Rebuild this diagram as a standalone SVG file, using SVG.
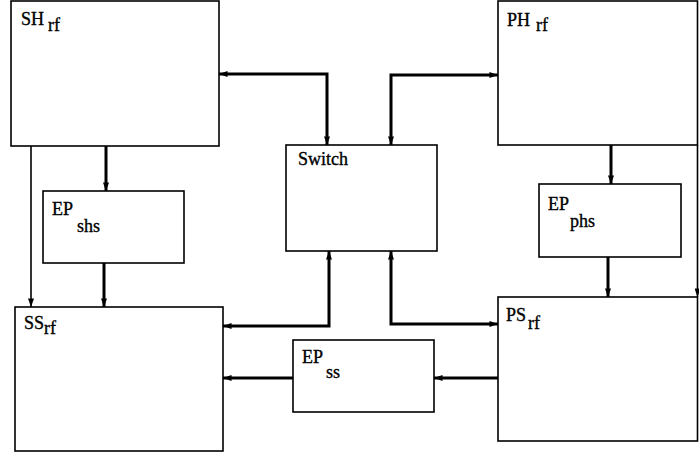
<svg xmlns="http://www.w3.org/2000/svg" width="699" height="456" viewBox="0 0 699 456">
<style>
.box{fill:#fff;stroke:#000;stroke-width:1.6}
.t{font-family:"Liberation Serif","Times New Roman",serif;font-size:18px;fill:#000;stroke:#000;stroke-width:0.35}
.thick{fill:none;stroke:#000;stroke-width:3}
.thin{fill:none;stroke:#000;stroke-width:1.6}
</style>
<defs>
<marker id="ah" viewBox="0 0 10 7" refX="10" refY="3.5" markerWidth="9" markerHeight="6" markerUnits="userSpaceOnUse" orient="auto-start-reverse">
<path d="M0,0 L10,3.5 L0,7 z" fill="#000"/>
</marker>
</defs>
<rect width="699" height="456" fill="#fff"/>
<g id="SH_rf"><rect class="box" x="11" y="1" width="208" height="145"/><text class="t" x="21" y="25">SH</text><text class="t" x="48" y="31">rf</text></g>
<g id="PH_rf"><rect class="box" x="498" y="1" width="199.5" height="144"/><text class="t" x="507" y="26">PH</text><text class="t" x="536" y="31">rf</text></g>
<g id="Switch"><rect class="box" x="286" y="145" width="151" height="106"/><text class="t" x="298" y="165">Switch</text></g>
<g id="EP_shs"><rect class="box" x="43" y="191" width="141" height="72"/><text class="t" x="52" y="215">EP</text><text class="t" x="77" y="232">shs</text></g>
<g id="EP_phs"><rect class="box" x="539" y="184" width="142" height="73"/><text class="t" x="548" y="210">EP</text><text class="t" x="570" y="227">phs</text></g>
<g id="SS_rf"><rect class="box" x="15" y="307" width="208" height="144"/><text class="t" x="24" y="329">SS</text><text class="t" x="44" y="334">rf</text></g>
<g id="PS_rf"><rect class="box" x="498" y="297" width="199.5" height="144"/><text class="t" x="506" y="321">PS</text><text class="t" x="528" y="329">rf</text></g>
<g id="EP_ss"><rect class="box" x="293" y="340" width="141" height="72"/><text class="t" x="302" y="363">EP</text><text class="t" x="326" y="378">ss</text></g>
<g id="connectors">
<path class="thick" d="M327,145 L327,74 L219,74" marker-start="url(#ah)" marker-end="url(#ah)"/>
<path class="thick" d="M391,145 L391,75 L498,75" marker-start="url(#ah)" marker-end="url(#ah)"/>
<path class="thick" d="M106,146 L106,191" marker-end="url(#ah)"/>
<path class="thin" d="M31,146 L31,307" marker-end="url(#ah)"/>
<path class="thick" d="M104,263 L104,307" marker-end="url(#ah)"/>
<path class="thick" d="M329,251 L329,326 L223,326" marker-start="url(#ah)" marker-end="url(#ah)"/>
<path class="thick" d="M391,251 L391,324 L498,324" marker-start="url(#ah)" marker-end="url(#ah)"/>
<path class="thick" d="M293,378 L223,378" marker-end="url(#ah)"/>
<path class="thick" d="M498,378 L434,378" marker-end="url(#ah)"/>
<path class="thick" d="M611,145 L611,184" marker-end="url(#ah)"/>
<path class="thick" d="M608,257 L608,297" marker-end="url(#ah)"/>
<path class="thin" d="M697.5,145 L697.5,297" marker-end="url(#ah)"/>
</g>
</svg>
